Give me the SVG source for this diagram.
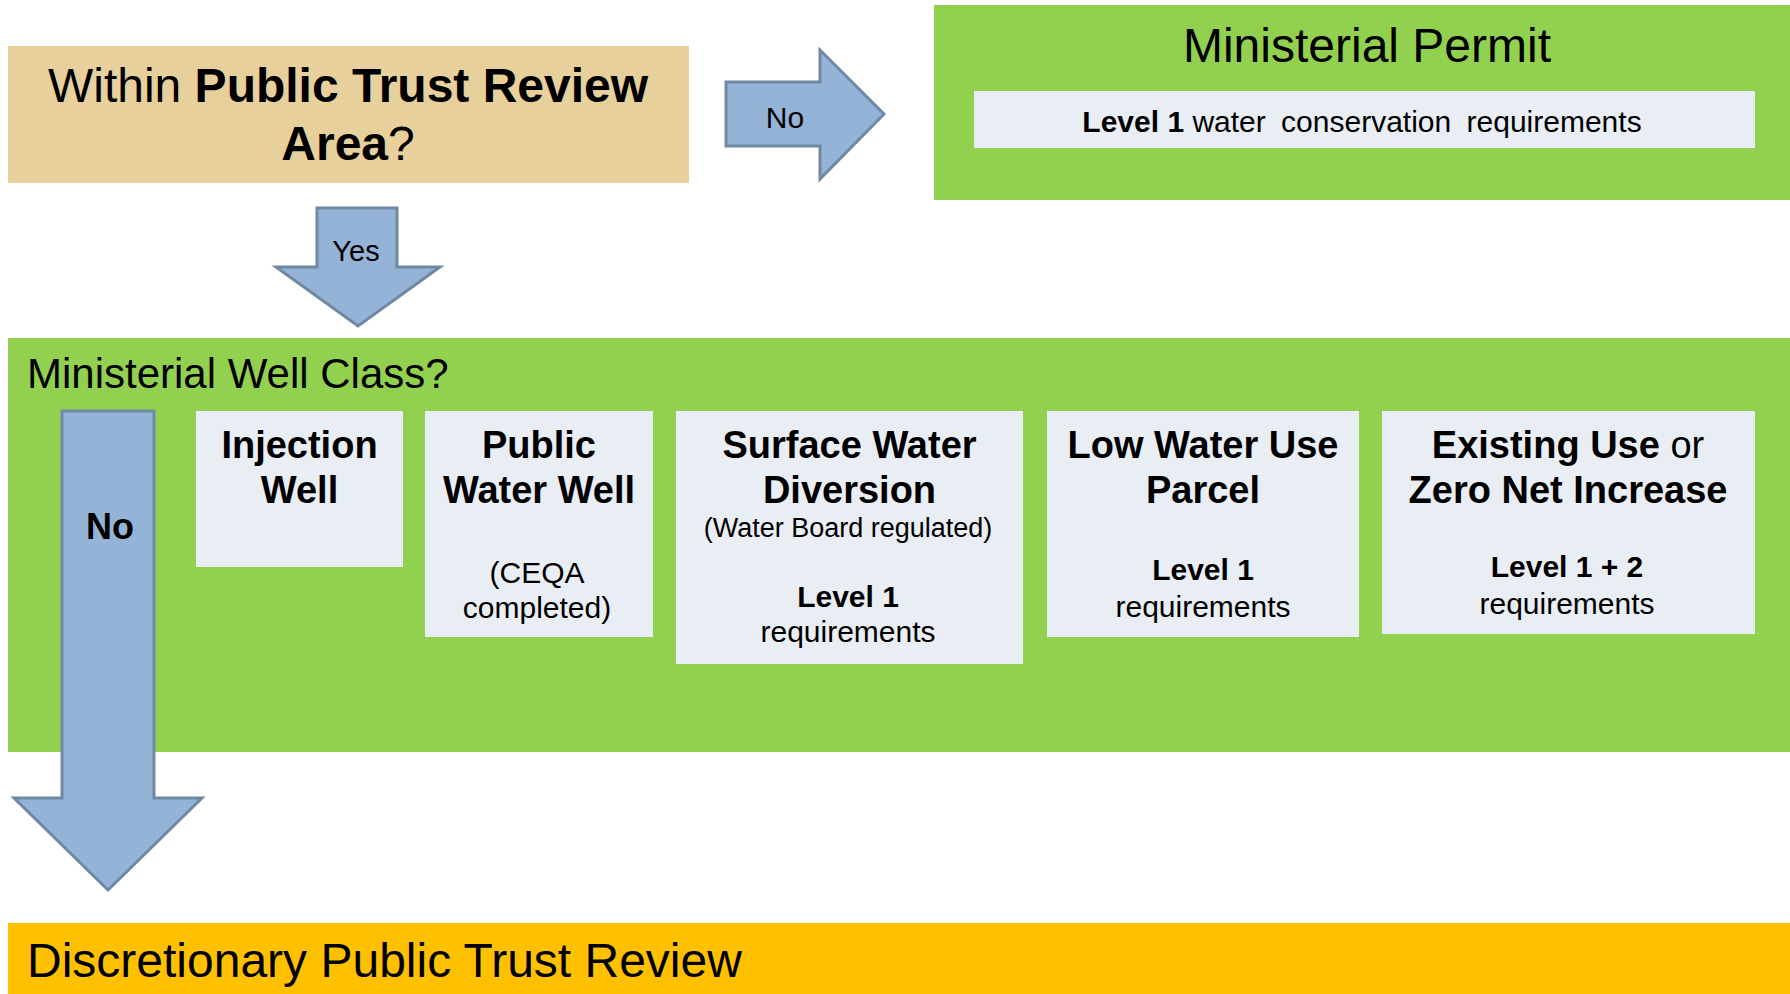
<svg xmlns="http://www.w3.org/2000/svg" width="1790" height="994" viewBox="0 0 1790 994">
<style>
text{font-family:"Liberation Sans",Arial,sans-serif;fill:#000}
.b{font-weight:bold}
.arrow{fill:#95B3D7;stroke:#6F89A2;stroke-width:3;stroke-linejoin:miter}
.card{fill:#E9EDF4}
.t38{font-size:38px;font-weight:bold}
.t30{font-size:30px}
</style>
<rect width="1790" height="994" fill="#fff"/>
<g id="question">
<rect x="8" y="46" width="681" height="137" fill="#E8D09C"/>
<text x="348" y="102" font-size="48" text-anchor="middle">Within <tspan class="b">Public Trust Review</tspan></text>
<text x="348" y="160" font-size="48" text-anchor="middle"><tspan class="b">Area</tspan>?</text>
</g>
<g id="ministerial-permit">
<rect x="934" y="5" width="856" height="195" fill="#92D050"/>
<text x="1367" y="62" font-size="48" text-anchor="middle">Ministerial Permit</text>
<rect x="974" y="91" width="781" height="57" class="card"/>
<text x="1362" y="132" class="t30" text-anchor="middle"><tspan class="b">Level 1 </tspan><tspan word-spacing="7">water conservation requirements</tspan></text>
</g>
<g id="well-class">
<rect x="8" y="338" width="1782" height="414" fill="#92D050"/>
<text x="27" y="388" font-size="42">Ministerial Well Class?</text>
</g>
<g id="injection-well">
<rect x="196" y="411" width="207" height="156" class="card"/>
<text x="299.5" y="458" class="t38" text-anchor="middle">Injection</text>
<text x="299.5" y="503" class="t38" text-anchor="middle">Well</text>
</g>
<g id="public-water-well">
<rect x="425" y="411" width="228" height="226" class="card"/>
<text x="539" y="458" class="t38" text-anchor="middle">Public</text>
<text x="539" y="503" class="t38" text-anchor="middle">Water Well</text>
<text x="537" y="583" class="t30" text-anchor="middle">(CEQA</text>
<text x="537" y="618" class="t30" text-anchor="middle">completed)</text>
</g>
<g id="surface-water">
<rect x="676" y="411" width="347" height="253" class="card"/>
<text x="849.5" y="458" class="t38" text-anchor="middle">Surface Water</text>
<text x="849.5" y="503" class="t38" text-anchor="middle">Diversion</text>
<text x="848" y="537" font-size="27" text-anchor="middle">(Water Board regulated)</text>
<text x="848" y="607" class="t30 b" text-anchor="middle">Level 1</text>
<text x="848" y="642" class="t30" text-anchor="middle">requirements</text>
</g>
<g id="low-water-use">
<rect x="1047" y="411" width="312" height="226" class="card"/>
<text x="1203" y="458" class="t38" text-anchor="middle">Low Water Use</text>
<text x="1203" y="503" class="t38" text-anchor="middle">Parcel</text>
<text x="1203" y="580" class="t30 b" text-anchor="middle">Level 1</text>
<text x="1203" y="617" class="t30" text-anchor="middle">requirements</text>
</g>
<g id="existing-use">
<rect x="1382" y="411" width="373" height="223" class="card"/>
<text x="1568" y="458" class="t38" text-anchor="middle">Existing Use <tspan font-weight="normal">or</tspan></text>
<text x="1568" y="503" class="t38" text-anchor="middle">Zero Net Increase</text>
<text x="1567" y="577" class="t30 b" text-anchor="middle">Level 1 + 2</text>
<text x="1567" y="614" class="t30" text-anchor="middle">requirements</text>
</g>
<g id="discretionary">
<rect x="8" y="923" width="1782" height="71" fill="#FFC000"/>
<text x="27" y="977" font-size="48">Discretionary Public Trust Review</text>
</g>
<g id="connectors">
<path class="arrow" d="M726,82 H820 V50 L884,114 L820,179 V146 H726 Z"/>
<text x="785" y="128" font-size="30" text-anchor="middle">No</text>
<path class="arrow" d="M317,208 H397 V267 H440 L358,326 L276,267 H317 Z"/>
<text x="356" y="261" font-size="29" text-anchor="middle">Yes</text>
<path class="arrow" d="M62,411 H154 V798 H202 L108,890 L14,798 H62 Z"/>
<text x="110" y="539" font-size="36" font-weight="bold" text-anchor="middle">No</text>
</g>
</svg>
